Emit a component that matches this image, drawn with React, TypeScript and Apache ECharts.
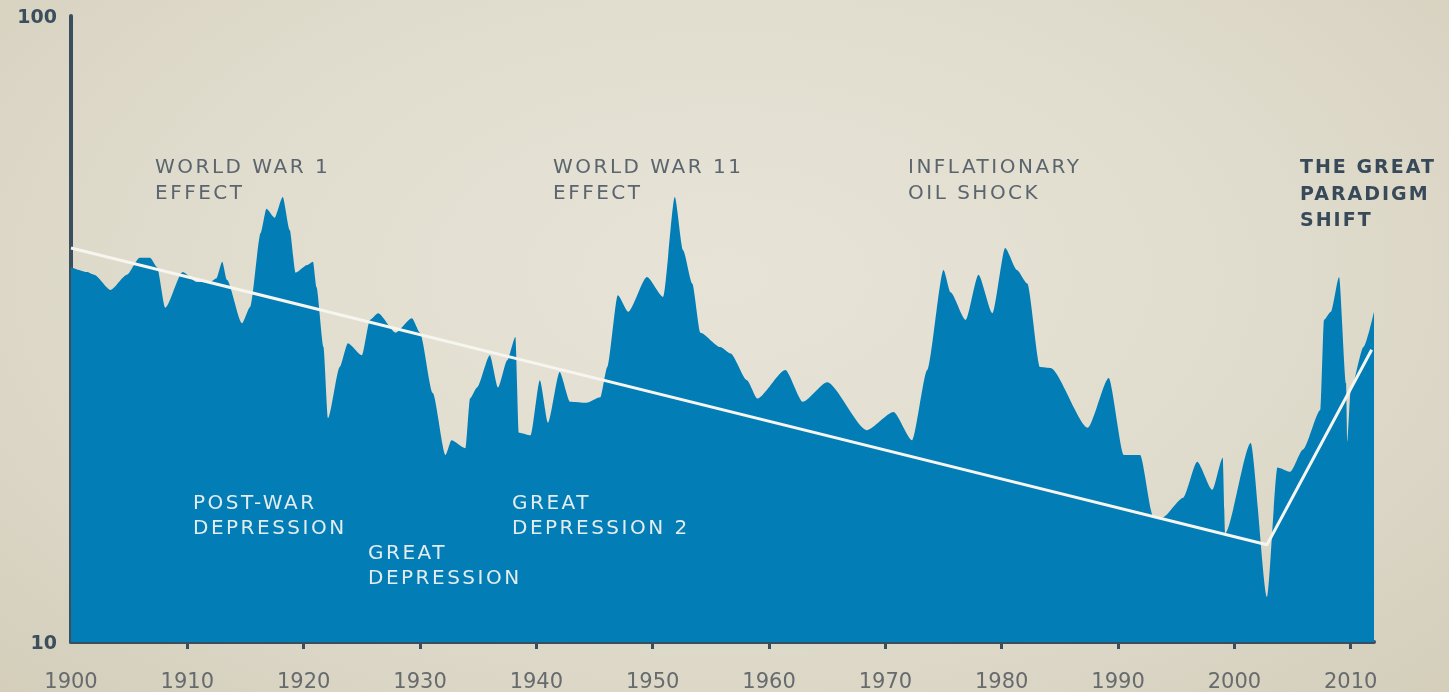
import React, { useEffect, useRef } from 'react';
import * as echarts from 'echarts';

// Series: price index (log scale)
const years = [
  1900, 1901.4, 1902, 1903.4, 1904.8, 1905.9, 1906.8, 1907.4, 1908.1, 1909.6,
  1910.8, 1912, 1912.5, 1913, 1913.4, 1914.7, 1915.4, 1916.3, 1916.8, 1917.5,
  1918.2, 1918.8, 1919.3, 1920.3, 1920.8, 1921.1, 1921.7, 1922.1, 1923.1, 1923.8,
  1925, 1925.7, 1926.4, 1927.9, 1929.3, 1930, 1931.1, 1932.2, 1932.7, 1933.9,
  1934.3, 1934.9, 1936, 1936.7, 1937.5, 1938.2, 1938.5, 1939.5, 1940.3, 1941,
  1942, 1942.9, 1944.3, 1945.5, 1946.1, 1947, 1947.9, 1949.5, 1950.9, 1951.9,
  1952.6, 1953.4, 1954.1, 1955.8, 1956.7, 1958.1, 1959, 1961.4, 1962.9, 1965,
  1968.4, 1970.7, 1972.3, 1973.6, 1975, 1975.6, 1976.9, 1978, 1979.2, 1980.3,
  1981.3, 1982.2, 1983.3, 1984.2, 1987.4, 1989.2, 1990.5, 1991.9, 1993, 1993.8,
  1995.6, 1996.8, 1998.1, 1999, 1999.2, 2001.4, 2002.8, 2003.7, 2004.8, 2005.9,
  2007.4, 2007.7, 2008.3, 2009, 2009.6, 2009.7, 2010, 2011.1, 2012,
];
const values = [
  39.7, 39.0, 38.6, 36.5, 38.6, 41.1, 41.1, 39.7, 34.2, 39.0,
  37.6, 37.6, 38.1, 40.5, 37.9, 32.3, 34.3, 45.0, 49.2, 47.6,
  51.4, 45.5, 38.9, 40.0, 40.5, 36.9, 29.6, 22.8, 27.5, 30.0,
  28.7, 32.7, 33.5, 31.2, 32.9, 31.2, 25.0, 19.9, 21.0, 20.4,
  24.5, 25.5, 28.7, 25.5, 28.2, 30.7, 21.6, 21.4, 26.2, 22.4,
  27.0, 24.2, 24.1, 24.6, 27.5, 35.8, 33.7, 38.3, 35.6, 51.4,
  42.3, 37.4, 31.2, 29.6, 28.9, 26.2, 24.5, 27.2, 24.2, 26.0,
  21.8, 23.3, 21.0, 27.2, 39.3, 36.2, 32.7, 38.6, 33.5, 42.6,
  39.3, 37.4, 27.5, 27.4, 22.0, 26.4, 19.9, 19.9, 15.9, 15.8,
  17.0, 19.4, 17.5, 19.7, 14.9, 20.8, 11.8, 19.0, 18.7, 20.3,
  23.5, 32.7, 33.7, 38.3, 25.9, 20.9, 25.3, 29.6, 33.7,
];

// Trend line
const trendYears = [1900, 2002.8, 2011.8];
const trendValues = [42.6, 14.3, 29.3];

// Axis ticks / labels
const xTickValues = [1910, 1920, 1930, 1940, 1950, 1960, 1970, 1980, 1990, 2000, 2010];
const xLabelValues = [1900, 1910, 1920, 1930, 1940, 1950, 1960, 1970, 1980, 1990, 2000, 2010];

// Annotation texts
const annotationsTop = [
  ['WORLD WAR 1', 'EFFECT'],
  ['WORLD WAR 11', 'EFFECT'],
  ['INFLATIONARY', 'OIL SHOCK'],
];
const annotationsInside = [
  ['POST-WAR', 'DEPRESSION'],
  ['GREAT', 'DEPRESSION'],
  ['GREAT', 'DEPRESSION 2'],
];
const annotationHighlight = ['THE GREAT', 'PARADIGM', 'SHIFT'];

export default function App() {
  const ref = useRef<HTMLDivElement>(null);

  useEffect(() => {
    const chart = echarts.init(ref.current as HTMLDivElement, null, { renderer: 'svg' });
    const axisColor = '#3b4e5d';
    const blue = '#027db5';

    const topPos = [
      [155, 153],
      [553, 153],
      [908, 153],
    ];
    const insidePos = [
      [193, 489.5],
      [368, 539.5],
      [512, 489.5],
    ];

    const graphics: any[] = [];
    annotationsTop.forEach((lines, i) => {
      graphics.push({
        type: 'text',
        x: topPos[i][0],
        y: topPos[i][1],
        z: 100,
        style: {
          text: lines.join('\n'),
          fill: '#5b656d',
          fontSize: 20,
          fontFamily: 'DejaVu Sans, annot',
          lineHeight: 26,
          verticalAlign: 'top',
          align: 'left',
        },
      });
    });
    annotationsInside.forEach((lines, i) => {
      graphics.push({
        type: 'text',
        x: insidePos[i][0],
        y: insidePos[i][1],
        z: 100,
        style: {
          text: lines.join('\n'),
          fill: '#e4ecef',
          fontSize: 20,
          fontFamily: 'DejaVu Sans, annot',
          lineHeight: 25,
          verticalAlign: 'top',
          align: 'left',
        },
      });
    });
    graphics.push({
      type: 'text',
      x: 1300,
      y: 153,
      z: 100,
      style: {
        text: annotationHighlight.join('\n'),
        fill: '#384a59',
        fontSize: 19,
        fontWeight: 'bold',
        fontFamily: 'DejaVu Sans, annotb',
        lineHeight: 26.5,
        verticalAlign: 'top',
        align: 'left',
      },
    });

    chart.setOption({
      animation: false,
      backgroundColor: 'transparent',
      grid: { left: 71, right: 75, top: 16, bottom: 50, containLabel: false },
      xAxis: {
        type: 'value',
        min: 1900,
        max: 2012,
        interval: 10,
        axisLine: { show: true, onZero: false, lineStyle: { color: axisColor, width: 4 } },
        axisTick: {
          show: true,
          customValues: xTickValues,
          length: 7,
          lineStyle: { color: axisColor, width: 3 },
        },
        axisLabel: {
          customValues: xLabelValues,
          formatter: (v: number) => String(v),
          margin: 28,
          fontSize: 21,
          color: '#676b6d',
          fontFamily: 'DejaVu Sans',
        },
        splitLine: { show: false },
      },
      yAxis: {
        type: 'log',
        logBase: 10,
        min: 10,
        max: 100,
        axisLine: { show: true, onZero: false, lineStyle: { color: axisColor, width: 4 } },
        axisTick: { show: false },
        axisLabel: {
          margin: 14,
          fontSize: 19,
          fontWeight: 'bold',
          color: axisColor,
          fontFamily: 'DejaVu Sans',
        },
        splitLine: { show: false },
      },
      series: [
        {
          type: 'line',
          data: years.map((y, i) => [y, values[i]]),
          smooth: 0.22,
          smoothMonotone: 'x',
          symbol: 'none',
          color: blue,
          lineStyle: { width: 0 },
          areaStyle: { color: blue, opacity: 1, origin: 'start' },
          z: 2,
        },
        {
          type: 'line',
          data: trendYears.map((y, i) => [y, trendValues[i]]),
          symbol: 'none',
          color: '#f6f5ef',
          lineStyle: { color: '#f6f5ef', width: 3 },
          z: 3,
        },
      ],
      graphic: graphics,
    });

    return () => chart.dispose();
  }, []);

  return (
    <div
      style={{
        position: 'fixed',
        left: 0,
        top: 0,
        width: 1449,
        height: 692,
        background:
          'radial-gradient(ellipse at 50% 40%, #e7e3d7 0%, #e0dccd 55%, #d4cebb 100%)',
      }}
    >
      <style>{`text[style*="annot"]{letter-spacing:2.5px}text[style*="annotb"]{letter-spacing:2px}`}</style>
      <div ref={ref} style={{ width: 1449, height: 692 }} />
    </div>
  );
}
